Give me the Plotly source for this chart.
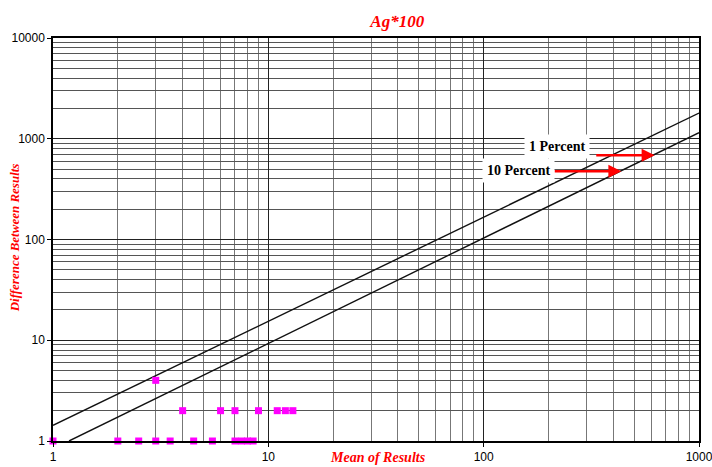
import numpy as np
import plotly.graph_objects as go

# Data points (Mean of Results, Difference Between Results)
mean_vals = [1, 2, 2.5, 3, 3.5, 4.5, 5.5, 7, 7.5, 8, 8.5,
             4, 6, 7, 9, 11, 12, 13,
             3]
diff_vals = [1, 1, 1, 1, 1, 1, 1, 1, 1, 1, 1,
             2, 2, 2, 2, 2, 2, 2,
             4]

# Precision lines (endpoints)
upper_x = [1, 1000]
upper_y = [1.43, 1800]
lower_x = [1.187, 1000]
lower_y = [1, 1150]

# Annotation arrows: label, label position, arrow tail, arrow head
labels = ["1 Percent", "10 Percent"]
label_x = [220, 145]
label_y = [842, 479]
tail_x = [328, 210]
head_x = [622, 436]
arrow_y = [686, 476]

x_major = [1, 10, 100, 1000]
y_major = [1, 10, 100, 1000, 10000]
x_minor = [m * d for d in [1, 10, 100] for m in range(2, 10)]
y_minor = [m * d for d in [1, 10, 100, 1000] for m in range(2, 10)]

serif = "Liberation Serif"
sans = "Liberation Sans"

fig = go.Figure()
fig.add_trace(go.Scatter(x=upper_x, y=upper_y, mode="lines",
                         line=dict(color="#111", width=1.4), showlegend=False, hoverinfo="skip"))
fig.add_trace(go.Scatter(x=lower_x, y=lower_y, mode="lines",
                         line=dict(color="#111", width=1.4), showlegend=False, hoverinfo="skip"))
fig.add_trace(go.Scatter(x=mean_vals, y=diff_vals, mode="markers",
                         marker=dict(symbol="square", size=7, color="#FF00FF"),
                         showlegend=False, cliponaxis=False))

annotations = []
for i in range(len(labels)):
    annotations.append(dict(
        x=np.log10(head_x[i]), y=np.log10(arrow_y[i]), xref="x", yref="y",
        ax=np.log10(tail_x[i]), ay=np.log10(arrow_y[i]), axref="x", ayref="y",
        text="", showarrow=True, arrowhead=2, arrowsize=1, arrowwidth=2.6,
        arrowcolor="#FF0000"))
    annotations.append(dict(
        x=np.log10(label_x[i]), y=np.log10(label_y[i]), xref="x", yref="y",
        text="<b>" + labels[i] + "</b>", showarrow=False,
        font=dict(family=serif, size=14, color="black"),
        bgcolor="white", borderpad=4))

# Axis titles (placed as in the reference)
annotations.append(dict(text="<b><i>Mean of Results</i></b>", xref="paper", yref="paper",
                        x=0.503, y=-0.042, xanchor="center", yanchor="middle", showarrow=False,
                        font=dict(family=serif, size=14, color="#FF0000")))
annotations.append(dict(text="<b><i>Difference Between Results</i></b>", xref="paper", yref="paper",
                        x=-0.059, y=0.505, xanchor="center", yanchor="middle", showarrow=False,
                        textangle=-90, font=dict(family=serif, size=13, color="#FF0000")))

fig.update_layout(
    width=712, height=467,
    margin=dict(l=53, r=13, t=38, b=26, autoexpand=False),
    paper_bgcolor="white", plot_bgcolor="white",
    title=dict(text="<b><i>Ag*100</i></b>", x=0.558, xanchor="center", y=0.955, yanchor="middle",
               font=dict(family=serif, size=17, color="#FF0000")),
    annotations=annotations,
    xaxis=dict(type="log", range=[0, 3], tickvals=x_major, ticktext=[str(v) for v in x_major],
               ticks="outside", ticklen=4, tickcolor="black", automargin=False,
               ticklabeloverflow="allow",
               showgrid=True, gridcolor="#222", gridwidth=1,
               minor=dict(tickvals=x_minor, showgrid=True, gridcolor="#777", gridwidth=1, ticks=""),
               showline=True, linecolor="black", linewidth=1.5, mirror=True,
               tickfont=dict(family=sans, size=12, color="black"),
               zeroline=False),
    yaxis=dict(type="log", range=[0, 4], tickvals=y_major, ticktext=[str(v) for v in y_major],
               ticks="outside", ticklen=4, tickcolor="black", automargin=False,
               ticklabeloverflow="allow",
               showgrid=True, gridcolor="#222", gridwidth=1,
               minor=dict(tickvals=y_minor, showgrid=True, gridcolor="#555", gridwidth=1, ticks=""),
               showline=True, linecolor="black", linewidth=1.5, mirror=True,
               tickfont=dict(family=sans, size=12, color="black"),
               zeroline=False),
)

fig.write_html("out.html")
